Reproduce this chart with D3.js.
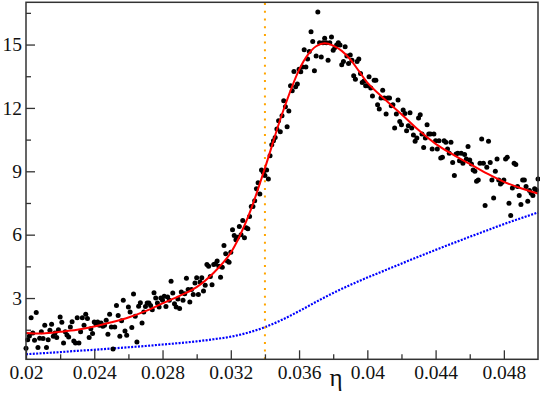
<!DOCTYPE html>
<html>
<head>
<meta charset="utf-8">
<script src="https://cdnjs.cloudflare.com/ajax/libs/d3/7.8.5/d3.min.js"></script>
<style>
  body { margin: 0; background: #fff; }
  svg { display: block; }
</style>
</head>
<body>
<div id="chart_area"></div>
<script>
// eta sampled every 0.0001 from 0.02 to 0.05
var etaStart = 0.02;
var etaStep = 0.0001;

// measured points (black)
var measured = [
  0.62, 1.03, 1.20, 2.07, 1.35, 1.00, 2.32, 0.66, 1.10, 1.41,
  1.08, 1.71, 0.66, 1.03, 1.47, 1.76, 1.19, 1.35, 1.13, 1.50,
  2.10, 1.85, 0.87, 1.41, 1.25, 1.16, 1.63, 1.88, 0.97, 0.87,
  2.07, 0.87, 1.40, 2.07, 1.71, 2.23, 2.03, 1.13, 1.55, 1.32,
  1.87, 1.76, 1.87, 1.71, 1.82, 1.66, 1.71, 1.95, 1.28, 2.23,
  1.63, 0.59, 1.63, 2.65, 2.17, 1.19, 1.93, 2.89, 1.44, 1.24,
  2.57, 2.34, 1.60, 3.19, 2.14, 0.92, 2.61, 2.78, 1.82, 2.34,
  2.60, 2.76, 2.76, 2.65, 2.45, 3.25, 3.00, 2.76, 2.57, 3.00,
  2.89, 3.09, 2.60, 3.05, 2.90, 3.79, 3.24, 2.73, 2.57, 2.95,
  2.50, 3.28, 2.89, 3.20, 3.94, 3.40, 2.81, 3.40, 3.17, 3.71,
  3.96, 3.17, 3.76, 3.96, 3.33, 3.60, 4.59, 4.50, 4.02, 3.63,
  4.59, 4.62, 4.75, 4.50, 3.99, 4.46, 5.49, 5.10, 4.75, 4.70,
  5.17, 6.23, 5.96, 5.76, 5.88, 6.39, 6.00, 6.67, 5.85, 6.33,
  6.28, 6.86, 7.33, 7.33, 7.61, 8.17, 8.46, 7.93, 9.06, 8.95,
  8.80, 9.06, 8.64, 9.74, 10.26, 10.45, 10.60, 11.00, 11.39, 10.87,
  11.63, 12.34, 12.05, 11.11, 11.86, 13.05, 12.81, 13.72, 13.00, 13.13,
  13.83, 13.71, 13.94, 14.75, 13.94, 14.31, 14.67, 15.61, 15.14, 13.76,
  14.46, 16.54, 15.09, 14.41, 15.09, 15.30, 15.09, 14.26, 15.09, 15.36,
  14.73, 14.86, 14.98, 15.09, 14.98, 14.04, 14.20, 14.89, 14.46, 14.10,
  14.51, 14.26, 13.52, 13.36, 14.20, 14.31, 13.63, 13.20, 13.28, 13.05,
  13.05, 13.47, 12.94, 12.57, 13.31, 13.31, 12.15, 11.95, 12.47, 12.84,
  12.47, 11.71, 12.47, 12.47, 12.10, 12.15, 11.05, 11.71, 12.37, 11.36,
  11.20, 11.90, 11.74, 10.92, 11.16, 11.77, 11.05, 10.72, 10.42, 10.58,
  11.52, 11.68, 10.77, 10.13, 10.58, 11.20, 10.77, 10.77, 10.06, 10.77,
  10.45, 10.06, 10.45, 9.63, 9.66, 10.45, 10.37, 10.06, 9.85, 10.37,
  9.42, 8.80, 9.82, 9.85, 9.50, 9.85, 9.38, 9.79, 9.58, 10.17,
  9.54, 9.35, 9.06, 9.00, 8.53, 8.59, 9.38, 10.53, 9.38, 7.38,
  9.19, 10.42, 9.42, 8.59, 7.74, 9.00, 9.58, 8.59, 8.40, 8.48,
  8.59, 9.58, 9.66, 7.49, 6.91, 8.21, 9.38, 9.32, 8.28, 7.85,
  7.43, 8.59, 8.59, 8.28, 7.58, 8.09, 7.96, 7.85, 8.17, 8.12,
  8.64
];

// fitted curve (red)
var fitEta = [0.020, 0.021, 0.022, 0.023, 0.024, 0.025, 0.026, 0.027, 0.028, 0.029,
              0.030, 0.031, 0.032, 0.033, 0.034, 0.035, 0.036, 0.0365, 0.037, 0.0375,
              0.038, 0.0385, 0.039, 0.0395, 0.040, 0.041, 0.042, 0.043, 0.044, 0.045,
              0.046, 0.047, 0.048, 0.049, 0.050];
var fitVal = [1.35, 1.32, 1.40, 1.50, 1.65, 1.85, 2.08, 2.38, 2.75, 3.10,
              3.52, 4.20, 5.15, 6.82, 9.15, 11.70, 13.80, 14.50, 14.92, 15.06,
              14.95, 14.70, 14.30, 13.75, 13.20, 12.42, 11.70, 10.95, 10.30, 9.80,
              9.35, 8.90, 8.50, 8.20, 7.95];

// background curve (blue)
var bgEta = [0.020, 0.021, 0.022, 0.023, 0.024, 0.025, 0.026, 0.027, 0.028, 0.029,
             0.030, 0.031, 0.032, 0.033, 0.034, 0.035, 0.036, 0.037, 0.038, 0.039,
             0.040, 0.041, 0.042, 0.043, 0.044, 0.045, 0.046, 0.047, 0.048, 0.049,
             0.050];
var bgVal = [0.34, 0.39, 0.44, 0.50, 0.55, 0.61, 0.67, 0.73, 0.80, 0.87,
             0.95, 1.05, 1.17, 1.36, 1.62, 1.97, 2.38, 2.82, 3.24, 3.62,
             3.97, 4.30, 4.63, 4.96, 5.28, 5.59, 5.90, 6.20, 6.50, 6.78,
             7.05];

var markerEta = 0.034;

var xMajor = [0.02, 0.024, 0.028, 0.032, 0.036, 0.04, 0.044, 0.048];
var xMajorLabels = ["0.02", "0.024", "0.028", "0.032", "0.036", "0.04", "0.044", "0.048"];
var xMinor = [0.022, 0.026, 0.03, 0.034, 0.038, 0.042, 0.046];
var yMajor = [3, 6, 9, 12, 15];
var yMinor = [1.5, 4.5, 7.5, 10.5, 13.5, 16.5];

var width = 540, height = 395;
var margin = {top: 2.3, right: 2, bottom: 35.7, left: 26};
var serif = "'Liberation Serif'";

var svg = d3.select("#chart_area")
    .append("svg")
    .attr("width", width)
    .attr("height", height);

var x = d3.scaleLinear()
    .domain([0.02, 0.05])
    .range([margin.left, width - margin.right]);
var y = d3.scaleLinear()
    .domain([0.1, 17])
    .range([height - margin.bottom, margin.top]);

var plot = svg.append("g");

// blue dotted background
var bgLine = d3.line()
    .x(function(d, i) { return x(bgEta[i]); })
    .y(function(d) { return y(d); })
    .curve(d3.curveMonotoneX);
plot.append("path")
    .attr("d", bgLine(bgVal))
    .attr("fill", "none")
    .attr("stroke", "#0000ff")
    .attr("stroke-width", 2.2)
    .attr("stroke-dasharray", "2,1.4");

// orange dotted marker
plot.append("line")
    .attr("x1", x(markerEta))
    .attr("x2", x(markerEta))
    .attr("y1", y.range()[0])
    .attr("y2", y.range()[1])
    .attr("stroke", "#ffa500")
    .attr("stroke-width", 2)
    .attr("stroke-dasharray", "2,5.7");

// data points
plot.selectAll(".pt")
    .data(measured)
    .enter()
    .append("circle")
    .attr("class", "pt")
    .attr("cx", function(d, i) { return x(etaStart + i * etaStep); })
    .attr("cy", function(d) { return y(d); })
    .attr("r", 2.5)
    .attr("fill", "#000");

// red fit
var fitLine = d3.line()
    .x(function(d, i) { return x(fitEta[i]); })
    .y(function(d) { return y(d); })
    .curve(d3.curveCatmullRom);
plot.append("path")
    .attr("d", fitLine(fitVal))
    .attr("fill", "none")
    .attr("stroke", "#ff0000")
    .attr("stroke-width", 2);

// axes, ticks pointing inward
var axisColor = "#333";

svg.append("g")
    .attr("transform", "translate(0," + y.range()[0] + ")")
    .call(d3.axisBottom(x)
        .tickValues(xMajor)
        .tickFormat(function(d, i) { return xMajorLabels[i]; })
        .tickSize(-9)
        .tickPadding(6));
svg.append("g")
    .attr("transform", "translate(0," + y.range()[0] + ")")
    .call(d3.axisBottom(x).tickValues(xMinor).tickFormat("").tickSize(-5));

svg.append("g")
    .attr("transform", "translate(" + margin.left + ",0)")
    .call(d3.axisLeft(y)
        .tickValues(yMajor)
        .tickSize(-9)
        .tickPadding(4));
svg.append("g")
    .attr("transform", "translate(" + margin.left + ",0)")
    .call(d3.axisLeft(y).tickValues(yMinor).tickFormat("").tickSize(-5));

svg.selectAll(".domain").remove();
svg.selectAll(".tick line")
    .attr("stroke", axisColor)
    .attr("stroke-width", 1.3);
svg.selectAll(".tick text")
    .attr("fill", "#111")
    .style("font-family", serif)
    .style("font-size", "19.5px");

// frame
svg.append("rect")
    .attr("x", margin.left)
    .attr("y", margin.top)
    .attr("width", width - margin.left - margin.right)
    .attr("height", height - margin.top - margin.bottom)
    .attr("fill", "none")
    .attr("stroke", axisColor)
    .attr("stroke-width", 1.5);

// axis title
svg.append("text")
    .attr("x", 336)
    .attr("y", 386)
    .attr("text-anchor", "middle")
    .style("font-family", serif)
    .style("font-size", "25px")
    .attr("fill", "#111")
    .text("η");
</script>
</body>
</html>
